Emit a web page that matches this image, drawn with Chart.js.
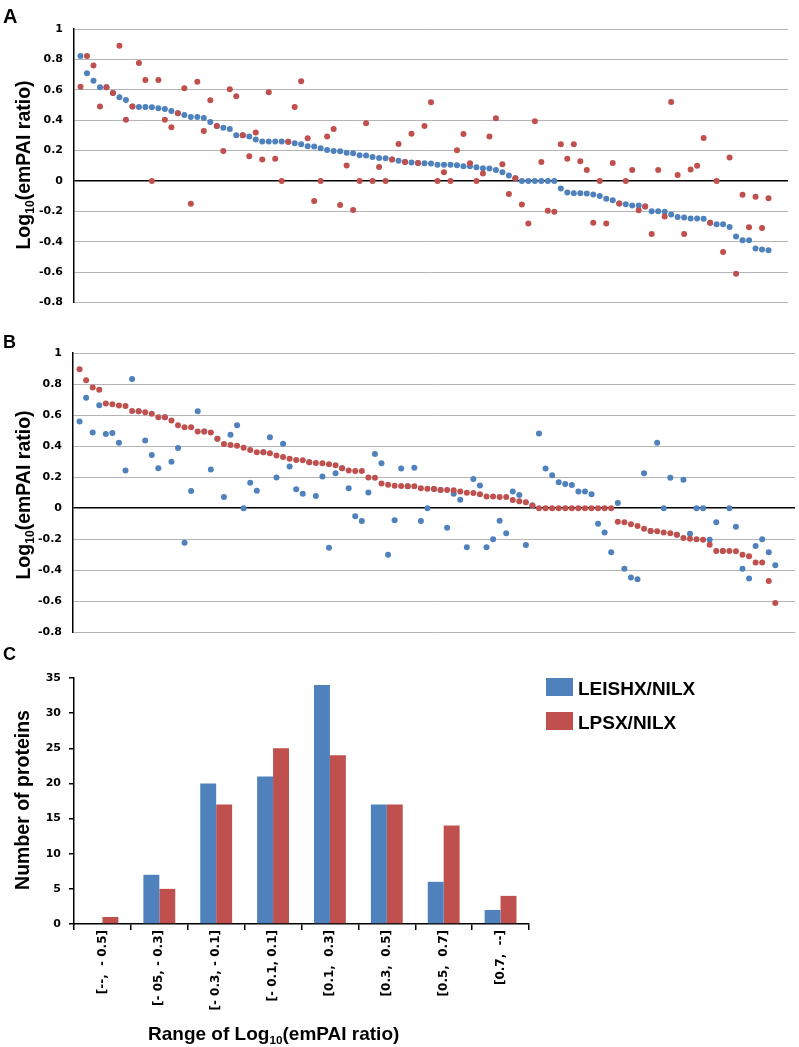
<!DOCTYPE html>
<html><head><meta charset="utf-8">
<script src="https://cdn.jsdelivr.net/npm/chart.js@4.4.1/dist/chart.umd.min.js"></script>
<style>
body{margin:0;background:#fff;width:799px;height:1047px;position:relative;overflow:hidden;font-family:"Liberation Sans",Arial,sans-serif;}
canvas{position:absolute;left:0;}
.lbl{position:absolute;font-weight:bold;line-height:1;white-space:nowrap;color:#000;}
.rot{transform:translate(-50%,-50%) rotate(-90deg);}
.sub{font-size:0.62em;position:relative;top:0.32em;}
.box{position:absolute;width:27px;height:18px;}
</style></head><body>
<canvas id="cA" width="799" height="320" style="top:0"></canvas>
<canvas id="cB" width="799" height="320" style="top:330px"></canvas>
<canvas id="cC" width="799" height="407" style="top:640px"></canvas>

<div class="lbl" style="left:3px;top:6px;font-size:20px">A</div>
<div class="lbl" style="left:3px;top:333px;font-size:18px">B</div>
<div class="lbl" style="left:3px;top:645px;font-size:18px">C</div>

<div class="lbl rot" style="left:24px;top:165px;font-size:19.5px">Log<span class="sub">10</span>(emPAI ratio)</div>
<div class="lbl rot" style="left:24px;top:495px;font-size:19.5px">Log<span class="sub">10</span>(emPAI ratio)</div>
<div class="lbl rot" style="left:23px;top:800px;font-size:19.5px">Number of proteins</div>
<div class="lbl" style="left:148px;top:1024px;font-size:19px">Range of Log<span class="sub">10</span>(emPAI ratio)</div>

<div class="box" style="left:546px;top:678px;background:#4f81bd"></div>
<div class="lbl" style="left:578px;top:679px;font-size:19px">LEISHX/NILX</div>
<div class="box" style="left:546px;top:712px;background:#c0504d"></div>
<div class="lbl" style="left:578px;top:713px;font-size:19px">LPSX/NILX</div>

<script>
// ---- Panel A: sorted by LEISHX/NILX (blue) ----
const blueA = [0.822,0.708,0.66,0.616,0.616,0.579,0.55,0.533,0.489,0.487,0.487,0.485,0.478,0.474,0.46,0.445,0.434,0.421,0.421,0.414,
0.388,0.362,0.35,0.342,0.30,0.30,0.292,0.272,0.259,0.259,0.259,0.259,0.257,0.248,0.241,0.228,0.226,0.215,0.204,0.197,
0.195,0.186,0.182,0.169,0.167,0.158,0.151,0.149,0.14,0.132,0.125,0.121,0.118,0.116,0.114,0.107,0.107,0.107,0.103,0.096,
0.096,0.09,0.083,0.081,0.072,0.057,0.035,0.018,0,0,0,0,0,0,-0.05,-0.077,-0.081,-0.081,-0.083,-0.09,
-0.10,-0.118,-0.127,-0.149,-0.154,-0.162,-0.162,-0.169,-0.20,-0.20,-0.204,-0.221,-0.237,-0.241,-0.248,-0.248,-0.25,-0.276,-0.285,-0.285,
-0.303,-0.366,-0.39,-0.39,-0.445,-0.452,-0.456];
const redA = [0.62,0.822,0.759,0.489,0.616,0.579,0.89,0.403,0.489,0.776,0.664,0.0,0.664,0.403,0.353,0.445,0.61,-0.151,0.653,0.329,
0.531,0.362,0.197,0.603,0.557,0.30,0.162,0.318,0.14,0.583,0.145,0.0,0.257,0.487,0.656,0.281,-0.132,0.0,0.292,0.342,
-0.158,0.101,-0.191,0.0,0.379,0.0,0.092,0.0,0.14,0.243,0.125,0.311,0.118,0.362,0.518,0,0.057,0,0.202,0.309,
0.116,0,0.048,0.292,0.412,0.11,-0.086,0.018,-0.156,-0.281,0.393,0.125,-0.197,-0.204,0.241,0.145,0.241,0.129,0.072,-0.276,
0,-0.281,0.118,-0.149,0,0.072,-0.193,-0.169,-0.349,0.072,-0.235,0.52,0.039,-0.349,0.075,0.099,0.283,-0.276,0,-0.469,
0.154,-0.612,-0.092,-0.305,-0.105,-0.31,-0.114];

// ---- Panel B: sorted by LPSX/NILX (red) ----
const redB = [0.896,0.825,0.778,0.763,0.674,0.67,0.661,0.659,0.627,0.625,0.618,0.608,0.586,0.586,0.565,0.535,0.522,0.522,0.495,0.495,
0.488,0.448,0.414,0.407,0.403,0.39,0.375,0.36,0.36,0.354,0.339,0.33,0.318,0.311,0.309,0.296,0.292,0.29,0.284,0.277,
0.258,0.243,0.239,0.239,0.198,0.196,0.16,0.151,0.145,0.143,0.141,0.141,0.128,0.126,0.124,0.117,0.117,0.115,0.107,0.10,
0.098,0.09,0.075,0.075,0.072,0.072,0.053,0.045,0.038,0.017,0,0,0,0,0,0,0,0,0,0,
0,0,-0.087,-0.09,-0.104,-0.115,-0.132,-0.147,-0.149,-0.156,-0.162,-0.171,-0.192,-0.196,-0.20,-0.203,-0.235,-0.275,-0.275,-0.275,
-0.277,-0.30,-0.309,-0.35,-0.35,-0.469,-0.61];
const blueB = [0.559,0.712,0.488,0.663,0.478,0.484,0.422,0.243,0.832,0.625,0.437,0.343,0.258,0.586,0.30,0.388,-0.222,0.111,0.625,0.495,
0.249,0.448,0.072,0.473,0.535,0.0,0.164,0.113,0.36,0.458,0.198,0.416,0.269,0.122,0.094,0.296,0.079,0.205,-0.254,0.226,
0.258,0.128,-0.051,-0.083,0.102,0.35,0.29,-0.30,-0.077,0.256,0.141,0.26,-0.083,0.0,0.124,0.117,-0.126,0.094,0.055,-0.252,
0.188,0.147,-0.252,-0.20,-0.081,-0.162,0.107,0.085,-0.237,0.017,0.482,0.256,0.213,0.168,0.156,0.149,0.107,0.107,0.09,-0.10,
-0.156,-0.284,0.034,-0.39,-0.446,-0.458,0.226,-0.147,0.422,0.0,0.196,-0.171,0.183,-0.164,0,0,-0.203,-0.09,-0.275,0,
-0.119,-0.39,-0.452,-0.243,-0.20,-0.284,-0.367];

// ---- Panel C: histogram ----
const rangeLabels = ["[--,  - 0.5]","[- 05, - 0.3]","[- 0.3, - 0.1]","[- 0.1, 0.1]","[0.1,  0.3]","[0.3,  0.5]","[0.5,  0.7]","[0.7,  --]"];
const countLeish = [0,7,20,21,34,17,6,2];
const countLps = [1,5,17,25,24,17,14,4];
const yTicksAB = [-0.8,-0.6,-0.4,-0.2,0,0.2,0.4,0.6,0.8,1];

const BLUE = '#4f81bd', RED = '#c0504d';
const tickFont = {family:'DejaVu Sans', weight:'bold', size:11};

function pts(arr){ return arr.map((v,i)=>({x:i+1, y:v})); }

function scatterChart(id, blue, red, pad, yWidth){
  new Chart(document.getElementById(id), {
    type:'scatter',
    data:{datasets:[
      {label:'LPSX/NILX', data:pts(red), backgroundColor:RED, borderWidth:0, pointRadius:3, order:0},
      {label:'LEISHX/NILX', data:pts(blue), backgroundColor:BLUE, borderWidth:0, pointRadius:3, order:1}
    ]},
    options:{
      responsive:false, animation:false, events:[],
      layout:{padding:pad},
      plugins:{legend:{display:false}, tooltip:{enabled:false}},
      scales:{
        x:{type:'linear', min:0, max:110, display:false},
        y:{min:-0.8, max:1,
           afterFit:s=>{s.width=yWidth;},
           afterBuildTicks:s=>{s.ticks=yTicksAB.map(v=>({value:v}));},
           ticks:{padding:11, color:'#000', font:tickFont, callback:v=>String(Math.round(v*10)/10)},
           grid:{drawTicks:false,
                 color:c=>Math.abs(c.tick.value)<1e-9?'#000':'#b4b4b4',
                 lineWidth:c=>Math.abs(c.tick.value)<1e-9?1.6:1},
           border:{display:true, color:'#000', width:1.5}}
      }
    }
  });
}
scatterChart('cA', blueA, redA, {top:29, right:11, bottom:17, left:0}, 74);
scatterChart('cB', blueB, redB, {top:23, right:4, bottom:16, left:0}, 73);

new Chart(document.getElementById('cC'), {
  type:'bar',
  data:{labels:rangeLabels, datasets:[
    {label:'LEISHX/NILX', data:countLeish, backgroundColor:BLUE, categoryPercentage:0.56, barPercentage:1},
    {label:'LPSX/NILX', data:countLps, backgroundColor:RED, categoryPercentage:0.56, barPercentage:1}
  ]},
  options:{
    responsive:false, animation:false, events:[],
    layout:{padding:{top:38, right:270, bottom:0, left:0}},
    plugins:{legend:{display:false}, tooltip:{enabled:false}},
    scales:{
      x:{afterFit:s=>{s.height=123;},
         grid:{offset:true, drawOnChartArea:false, tickLength:6, color:'#000', lineWidth:1.5},
         border:{display:true, color:'#000', width:1.5},
         ticks:{minRotation:90, maxRotation:90, autoSkip:false, padding:0, color:'#000', font:{family:'DejaVu Sans', weight:'bold', size:12}}},
      y:{min:0, max:35, afterFit:s=>{s.width=74;},
         ticks:{stepSize:5, padding:8, color:'#000', font:tickFont},
         grid:{drawOnChartArea:false, tickLength:5, color:'#000', lineWidth:1.5},
         border:{display:true, color:'#000', width:1.5}}
    }
  }
});
</script>
</body></html>
